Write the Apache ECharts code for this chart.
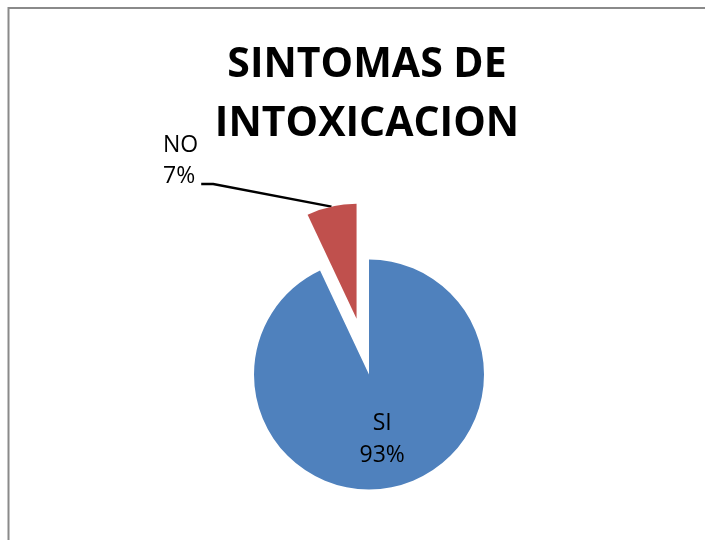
<!DOCTYPE html>
<html>
<head>
<meta charset="utf-8">
<script src="https://cdn.jsdelivr.net/npm/echarts@6/dist/echarts.min.js"></script>
<style>
  html, body { margin: 0; padding: 0; background: #fff; }
  #chart { width: 705px; height: 540px; }
</style>
</head>
<body>
<div id="chart"></div>
<script>
// Survey answers: symptoms of intoxication
const categories = ['SI', 'NO'];
const percentages = [93, 7];
const sliceColors = ['#4F81BD', '#C0504D'];

// Pie geometry
const pieCenter = [369, 374.5];
const pieRadius = 115;
const explodeDistance = 57;
const explodedName = 'NO';

// Direction of the exploded slice's bisector (clockwise from 12 o'clock)
const total = percentages.reduce((a, b) => a + b, 0);
const explodedIndex = categories.indexOf(explodedName);
const before = percentages.slice(0, explodedIndex).reduce((a, b) => a + b, 0);
const midAngle = (before + percentages[explodedIndex] / 2) / total * Math.PI * 2;
const explodedCenter = [
  pieCenter[0] + Math.sin(midAngle) * explodeDistance,
  pieCenter[1] - Math.cos(midAngle) * explodeDistance
];

const labelFont = { fontFamily: 'Open Sans', fontSize: 23, color: '#000' };

// Main pie: every slice except the exploded one (kept as a transparent gap holder)
const mainData = categories.map((name, i) => ({
  name: name,
  value: percentages[i],
  itemStyle: { color: name === explodedName ? 'rgba(0,0,0,0)' : sliceColors[i] },
  label: name === explodedName
    ? { show: false }
    : { show: true, position: 'inside', lineHeight: 32 }
}));

// Pulled-out pie: only the exploded slice is visible
const explodedData = categories.map((name, i) => ({
  name: name,
  value: percentages[i],
  itemStyle: { color: name === explodedName ? sliceColors[i] : 'rgba(0,0,0,0)' },
  // bottom padding lowers the leader line's attachment to the last text line
  label: { show: name === explodedName, position: 'outside', lineHeight: 31,
           padding: [0, 3, 46, 0] },
  labelLine: { show: name === explodedName, length: 20, length2: 12, smooth: false,
               lineStyle: { color: '#000', width: 2.5 } }
}));

const chart = echarts.init(document.getElementById('chart'));
chart.setOption({
  animation: false,
  title: {
    text: 'SINTOMAS DE\nINTOXICACION',
    left: 362,
    top: 31,
    textAlign: 'center',
    textStyle: {
      fontFamily: 'Open Sans',
      fontWeight: 'bold',
      fontSize: 41,
      lineHeight: 59,
      color: '#000'
    }
  },
  graphic: [{
    type: 'rect',
    shape: { x: 8.5, y: 8, width: 720, height: 560 },
    style: { fill: 'none', stroke: '#8a8a8a', lineWidth: 2 },
    silent: true
  }],
  series: [{
    type: 'pie',
    center: pieCenter,
    radius: pieRadius,
    startAngle: 90,
    clockwise: true,
    silent: true,
    avoidLabelOverlap: false,
    label: Object.assign({ formatter: '{b}\n{c}%' }, labelFont),
    labelLine: { show: false },
    labelLayout: { dy: 6 },
    data: mainData
  }, {
    type: 'pie',
    center: explodedCenter,
    radius: pieRadius,
    startAngle: 90,
    clockwise: true,
    silent: true,
    avoidLabelOverlap: false,
    label: Object.assign({ formatter: '{b}\n{c}%' }, labelFont),
    labelLayout: function (params) {
      if (params.dataIndex === explodedIndex) {
        return { x: 163, y: 130, align: 'left', verticalAlign: 'top' };
      }
      return {};
    },
    data: explodedData
  }]
});
</script>
</body>
</html>
